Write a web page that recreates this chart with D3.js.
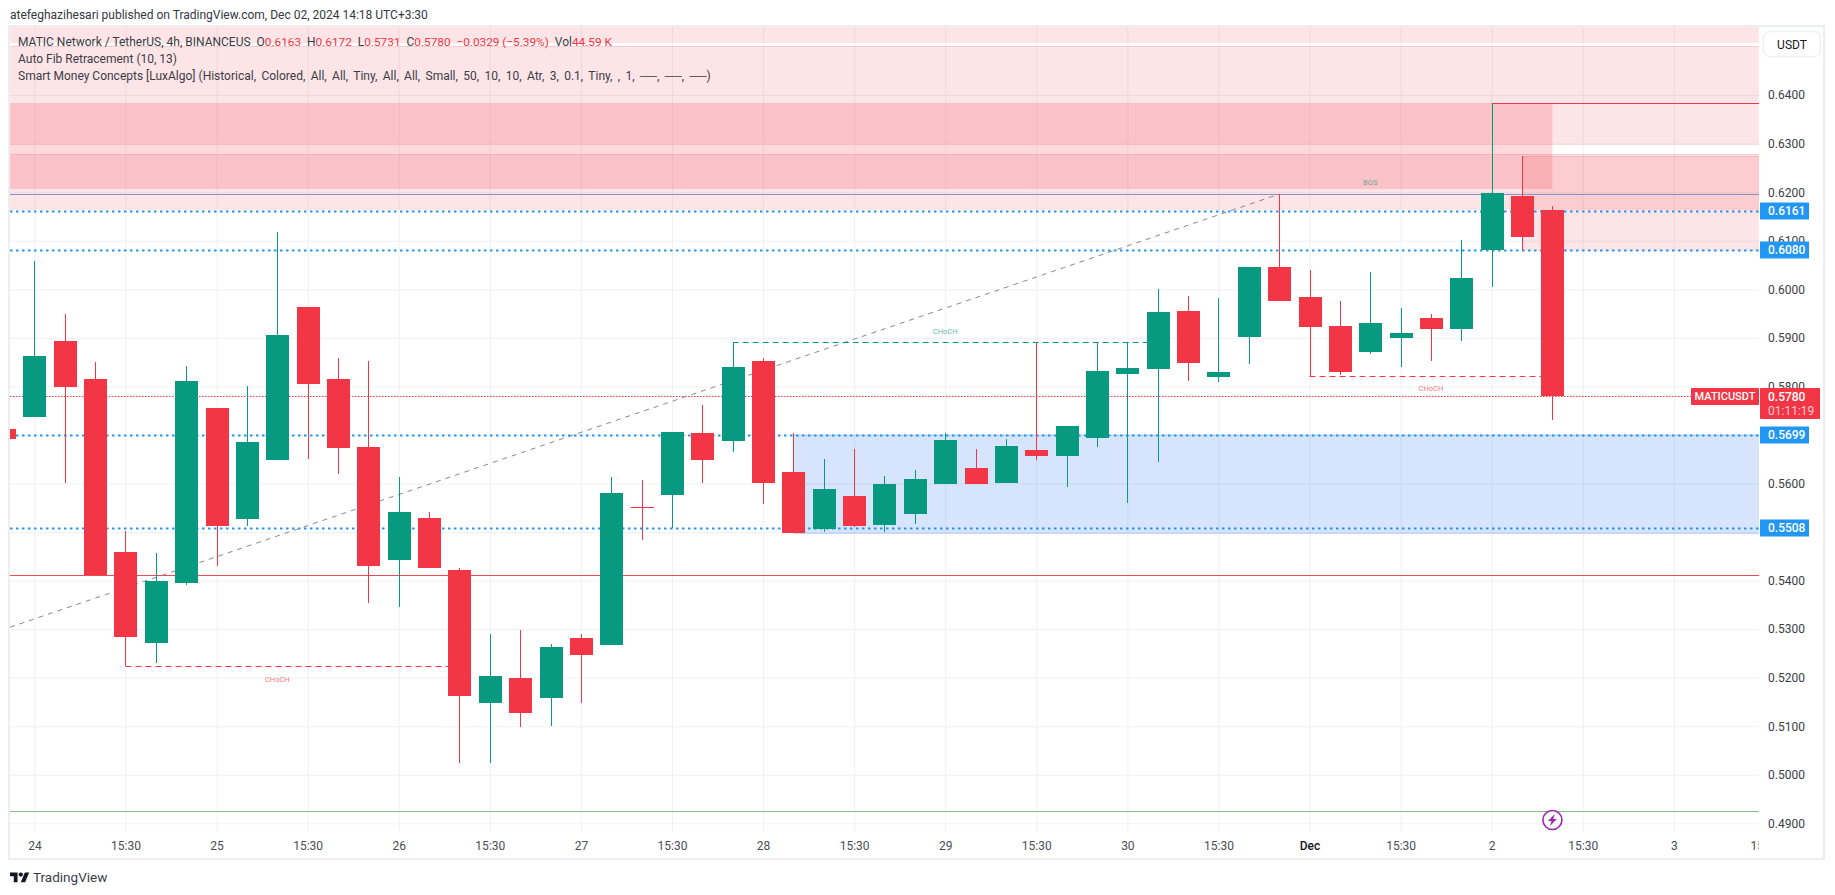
<!DOCTYPE html>
<html lang="en">
<head>
<meta charset="utf-8">
<script src="https://d3js.org/d3.v7.min.js"></script>
<style>
  html, body { margin: 0; background: #fff; }
  svg { display: block; font-family: Roboto, sans-serif; }
  text { white-space: pre; }
  .grid line { stroke: #f0f1f4; }
  .grid path { display: none; }
  .axis path, .axis line { display: none; }
  .axis text { font-family: Roboto, sans-serif; font-size: 12px; fill: #3a3d46; }
</style>
</head>
<body>
<svg id="chart" width="1835" height="895"></svg>
<script>
// 4h candles, first one is only just visible at the left edge
var indexes = [-1,0,1,2,3,4,5,6,7,8,9,10,11,12,13,14,15,16,17,18,19,20,21,22,23,24,25,26,27,28,29,30,31,32,33,34,35,36,37,38,39,40,41,42,43,44,45,46,47,48,49,50];
var opens  = [.5712,.5737,.5894,.5815,.5459,.5271,.5395,.5755,.5527,.5648,.5964,.5815,.5675,.5442,.5529,.5422,.5148,.5199,.5158,.5282,.5267,.5552,.5576,.5704,.5688,.5852,.5624,.5506,.5574,.5514,.5537,.5599,.5632,.5601,.5669,.5657,.5694,.5826,.5836,.5955,.5819,.5902,.6046,.5984,.5924,.5871,.5900,.5941,.5918,.6081,.6192,.6163];
var highs  = [.5712,.6058,.5949,.5850,.5502,.5457,.5842,.5755,.5801,.6118,.5964,.5858,.5852,.5613,.5541,.5426,.5290,.5298,.5269,.5290,.5613,.5607,.5706,.5762,.5891,.5858,.5704,.5650,.5671,.5615,.5628,.5704,.5671,.5692,.5891,.5718,.5891,.5891,.6000,.5986,.5982,.6046,.6196,.6040,.5976,.6036,.5961,.5949,.6102,.6384,.6275,.6172];
var lows   = [.5692,.5737,.5601,.5411,.5223,.5230,.5391,.5429,.5512,.5648,.5650,.5620,.5354,.5346,.5426,.5024,.5024,.5098,.5100,.5148,.5267,.5484,.5508,.5601,.5665,.5558,.5498,.5500,.5510,.5500,.5517,.5599,.5599,.5601,.5648,.5593,.5675,.5560,.5644,.5811,.5809,.5846,.5976,.5821,.5823,.5867,.5840,.5852,.5894,.6005,.6081,.5731];
var closes = [.5692,.5863,.5799,.5411,.5284,.5399,.5811,.5512,.5685,.5906,.5805,.5673,.5430,.5541,.5426,.5162,.5203,.5127,.5263,.5247,.5580,.5550,.5706,.5648,.5840,.5601,.5498,.5589,.5512,.5599,.5609,.5690,.5599,.5677,.5657,.5718,.5832,.5838,.5953,.5848,.5830,.6046,.5976,.5922,.5830,.5931,.5910,.5918,.6023,.6198,.6108,.5780];

var priceTicks = [.49,.50,.51,.52,.53,.54,.55,.56,.57,.58,.59,.60,.61,.62,.63,.64];
// .55 and .57 sit fully under the level labels
var priceLabels = [.49,.50,.51,.52,.53,.54,.56,.58,.59,.60,.61,.62,.63,.64];
var timeTickIndex = [0,3,6,9,12,15,18,21,24,27,30,33,36,39,42,45,48,51,54,57];
var timeTickLabels = ["24","15:30","25","15:30","26","15:30","27","15:30","28","15:30","29","15:30","30","15:30","Dec","15:30","2","15:30","3","15:30"];

// smart money supply zones: from / to candle index, top / bottom price
var zoneFrom   = [-3,-3,-3,-3,49];
var zoneTo     = [60,60,50,60,60];
var zoneTop    = [.6560,.6501,.6384,.6279,.6275];
var zoneBottom = [.6510,.6299,.6207,.6166,.6081];

var demandFrom = 25, demandTo = 60, demandTop = .5700, demandBottom = .5497;

var levelPrices = [.6161,.6080,.5699,.5508];
var lastPrice = .5780;
var fibHigh = .6196, fibLow = .4925, supportLine = .5411, swingHigh = .6384;

// diagonal auto fib trend line
var trendFrom = [-0.8,.5304], trendTo = [41,.6196];

// CHoCH / BOS structure breaks: from, to, price
var chochFrom  = [3,23,42];
var chochTo    = [14,37,50];
var chochPrice = [.5223,.5891,.5821];
var chochLabelIndex = [8,30,46];
var chochLabelPrice = [.5197,.5913,.5795];
var bosLabel = [44,.6220];

var fibLegend = "Auto Fib Retracement (10, 13)";
var smcLegend = "Smart Money Concepts [LuxAlgo] ";
var smcParams = "(Historical, Colored, All, All, Tiny, All, All, Small, 50, 10, 10, Atr, 3, 0.1, Tiny, , 1, ──, ──, ──)";

var green = "#089981", red = "#f23645", blue = "#2196f3";
var plotLeft = 10, plotRight = 1759, plotTop = 27, plotBottom = 832;

var svg = d3.select("#chart");
var x = d3.scaleLinear().domain([0, 48]).range([34.4, 1491.7]);
var y = d3.scaleLinear().domain([.49, .60]).range([823.3, 289.3]);

svg.append("defs").append("clipPath").attr("id", "plot")
  .append("rect").attr("x", plotLeft).attr("y", plotTop).attr("width", plotRight - plotLeft).attr("height", plotBottom - plotTop);
svg.select("defs").append("clipPath").attr("id", "timeclip")
  .append("rect").attr("x", plotLeft).attr("y", plotBottom).attr("width", plotRight - plotLeft).attr("height", 27);

// frame
svg.append("rect").attr("x", 9).attr("y", 26).attr("width", 1815).attr("height", 833)
  .attr("fill", "#fff").attr("stroke", "#eceef2").attr("stroke-width", 2);

var plot = svg.append("g").attr("clip-path", "url(#plot)");

plot.append("g").attr("class", "grid").attr("transform", "translate(0," + plotTop + ")")
  .call(d3.axisBottom(x).tickValues(timeTickIndex).tickSize(plotBottom - plotTop).tickFormat(""));
plot.append("g").attr("class", "grid").attr("transform", "translate(" + plotLeft + ",0)")
  .call(d3.axisRight(y).tickValues(priceTicks).tickSize(plotRight - plotLeft).tickFormat(""));

// supply zones
zoneTop.forEach(function(t, i) {
  var x0 = x(zoneFrom[i]), x1 = x(zoneTo[i]);
  plot.append("rect").attr("x", x0).attr("width", x1 - x0)
    .attr("y", Math.round(y(t))).attr("height", Math.round(y(zoneBottom[i])) - Math.round(y(t)))
    .attr("fill", red).attr("fill-opacity", i == 2 ? 0.19 : 0.135);
  [t, zoneBottom[i]].forEach(function(p) {
    if (i == 2) return;
    plot.append("line").attr("x1", x0).attr("x2", x1)
      .attr("y1", Math.round(y(p)) + .5).attr("y2", Math.round(y(p)) + .5)
      .attr("stroke", red).attr("stroke-opacity", 0.13);
  });
});

// demand zone
plot.append("rect").attr("x", x(demandFrom)).attr("width", x(demandTo) - x(demandFrom))
  .attr("y", y(demandTop)).attr("height", y(demandBottom) - y(demandTop))
  .attr("fill", "#2770ef").attr("fill-opacity", 0.19);
[demandTop, demandBottom].forEach(function(p) {
  plot.append("line").attr("x1", x(demandFrom)).attr("x2", x(demandTo)).attr("y1", y(p)).attr("y2", y(p))
    .attr("stroke", "#2770ef").attr("stroke-opacity", 0.2);
});

// horizontal levels
function hline(price, from, to, color, width, dash) {
  var l = plot.append("line").attr("x1", from).attr("x2", to)
    .attr("y1", Math.round(y(price)) + .5).attr("y2", Math.round(y(price)) + .5)
    .attr("stroke", color).attr("stroke-width", width);
  if (dash) l.attr("stroke-dasharray", dash);
  return l;
}
hline(fibHigh, plotLeft, plotRight, "#8093cb", 1);
hline(fibLow, plotLeft, plotRight, "#84c28a", 1.2);
hline(supportLine, plotLeft, plotRight, "#ef4a55", 1.2);
hline(swingHigh, x(48), plotRight, red, 1.2);
levelPrices.forEach(function(p) { hline(p, plotLeft, plotRight, blue, 2, "2.5 3.5"); });
hline(lastPrice, plotLeft, plotRight, red, 1, "1.5 1.5");

// trend line
plot.append("line").attr("x1", x(trendFrom[0])).attr("y1", y(trendFrom[1]))
  .attr("x2", x(trendTo[0])).attr("y2", y(trendTo[1]))
  .attr("stroke", "#868993").attr("stroke-width", 1).attr("stroke-dasharray", "5 5");

// structure lines, the vertical stem is the wick of the swing candle
chochPrice.forEach(function(p, i) {
  var c = i == 1 ? green : red;
  hline(p, x(chochFrom[i]), x(chochTo[i]), c, 1.2, "6 4");
  plot.append("text").attr("x", x(chochLabelIndex[i]))
    .attr("y", y(chochLabelPrice[i])).attr("dy", "0.35em").attr("text-anchor", "middle")
    .attr("font-size", 7.5).attr("fill", c).attr("fill-opacity", 0.7).text("CHoCH");
});
plot.append("text").attr("x", x(bosLabel[0])).attr("y", y(bosLabel[1])).attr("dy", "0.35em").attr("text-anchor", "middle")
  .attr("font-size", 7.5).attr("fill", green).attr("fill-opacity", 0.7).text("BOS");

// candles
var candles = plot.append("g").attr("shape-rendering", "crispEdges");
indexes.forEach(function(idx, i) {
  var c = closes[i] >= opens[i] ? green : red;
  var cx = Math.round(x(idx));
  candles.append("rect").attr("x", cx - 0.5).attr("width", 1.2)
    .attr("y", y(highs[i])).attr("height", y(lows[i]) - y(highs[i])).attr("fill", c);
  var t = y(Math.max(opens[i], closes[i])), b = y(Math.min(opens[i], closes[i]));
  candles.append("rect").attr("x", cx - 11.5).attr("width", 23)
    .attr("y", t).attr("height", Math.max(b - t, 1)).attr("fill", c);
});

// price axis
svg.append("g").attr("class", "axis").attr("transform", "translate(" + plotRight + ",0)")
  .call(d3.axisRight(y).tickValues(priceLabels).tickSize(0).tickPadding(9).tickFormat(d3.format(".4f")));

// time axis
var timeAxis = svg.append("g").attr("clip-path", "url(#timeclip)").attr("class", "axis")
  .append("g").attr("transform", "translate(0,836)")
  .call(d3.axisBottom(x).tickValues(timeTickIndex).tickSize(0).tickPadding(5)
    .tickFormat(function(d, i) { return timeTickLabels[i]; }));
timeAxis.selectAll("text").style("fill", function(d, i) { return timeTickLabels[i] == "Dec" ? "#131722" : "#4a4d57"; })
  .style("font-weight", function(d, i) { return timeTickLabels[i] == "Dec" ? 500 : 400; });

// price labels
levelPrices.forEach(function(p) {
  var g = svg.append("g").attr("transform", "translate(0," + Math.round(y(p)) + ")");
  g.append("rect").attr("x", 1760).attr("y", -8.5).attr("width", 49).attr("height", 17).attr("fill", blue);
  g.append("text").attr("x", 1768).attr("dy", "0.36em").attr("font-size", 12).attr("font-weight", 500)
    .attr("fill", "#fff").text(d3.format(".4f")(p));
});
var ly = Math.round(y(lastPrice));
svg.append("rect").attr("x", 1691).attr("y", ly - 8).attr("width", 68).attr("height", 17).attr("rx", 1).attr("fill", red);
svg.append("text").attr("x", 1725).attr("y", ly).attr("dy", "0.38em").attr("text-anchor", "middle")
  .attr("font-size", 11).attr("font-weight", 500).attr("fill", "#fff").text("MATICUSDT");
svg.append("rect").attr("x", 1760).attr("y", ly - 8).attr("width", 60).attr("height", 31).attr("rx", 1).attr("fill", red);
svg.append("text").attr("x", 1768).attr("y", ly).attr("dy", "0.38em").attr("font-size", 12).attr("font-weight", 500)
  .attr("fill", "#fff").text(d3.format(".4f")(lastPrice));
svg.append("text").attr("x", 1768).attr("y", ly + 15).attr("dy", "0.36em").attr("font-size", 12)
  .attr("fill", "#fff").attr("fill-opacity", 0.75).text("01:11:19");

// currency button
svg.append("rect").attr("x", 1763.5).attr("y", 31.5).attr("width", 57).attr("height", 25).attr("rx", 6)
  .attr("fill", "#fff").attr("stroke", "#eef0f4").attr("stroke-width", 1.5);
svg.append("text").attr("x", 1792).attr("y", 44.5).attr("dy", "0.36em").attr("text-anchor", "middle")
  .attr("font-size", 12).attr("fill", "#131722").text("USDT");

// snapshot marker on the last candle
var mark = svg.append("g").attr("transform", "translate(" + x(50) + ",820)");
mark.append("circle").attr("r", 9.5).attr("fill", "#fff").attr("stroke", "#9c27b0").attr("stroke-width", 1.6);
mark.append("path").attr("d", "M2.5 -6 L-4.5 1 L-0.8 1 L-2.5 6 L4.5 -1 L0.8 -1 Z").attr("fill", "#9c27b0");

// header and legend
svg.append("text").attr("x", 10).attr("y", 15).attr("dy", "0.36em").attr("font-size", 12).attr("fill", "#333742")
  .text("atefeghazihesari published on TradingView.com, Dec 02, 2024 14:18 UTC+3:30");

var legend = svg.append("text").attr("x", 18).attr("y", 42).attr("dy", "0.36em").attr("font-size", 12).attr("fill", "#3a3d46");
[["MATIC Network / TetherUS, 4h, BINANCEUS  O", 0], ["0.6163", 1], ["  H", 0], ["0.6172", 1], ["  L", 0], ["0.5731", 1], ["  C", 0], ["0.5780", 1],
 ["  −0.0329 (−5.39%)", 1], ["  Vol", 0], ["44.59 K", 1]].forEach(function(p) {
  legend.append("tspan").attr("fill", p[1] ? red : "#3a3d46").attr("font-size", p[1] ? 11.8 : 12).text(p[0]);
});
svg.append("text").attr("x", 18).attr("y", 59).attr("dy", "0.36em").attr("font-size", 12)
  .attr("fill", "#3a3d46").text(fibLegend);
var smc = svg.append("text").attr("x", 18).attr("y", 76).attr("dy", "0.36em").attr("font-size", 12)
  .attr("fill", "#3a3d46");
smc.append("tspan").text(smcLegend);
smc.append("tspan").style("word-spacing", "2.4px").text(smcParams);

// footer logo
svg.append("path").attr("transform", "translate(10,870.3) scale(.54)")
  .attr("d", "M14 22H7V11H0V4h14v18zM28 22h-8l7.5-18h8L28 22z").attr("fill", "#131722");
svg.append("circle").attr("cx", 10 + 20 * .54).attr("cy", 870.3 + 8 * .54).attr("r", 4 * .54).attr("fill", "#131722");
svg.append("text").attr("x", 33).attr("y", 877).attr("dy", "0.36em").attr("font-size", 13.5).attr("fill", "#3a3d46").text("TradingView");
</script>
</body>
</html>
